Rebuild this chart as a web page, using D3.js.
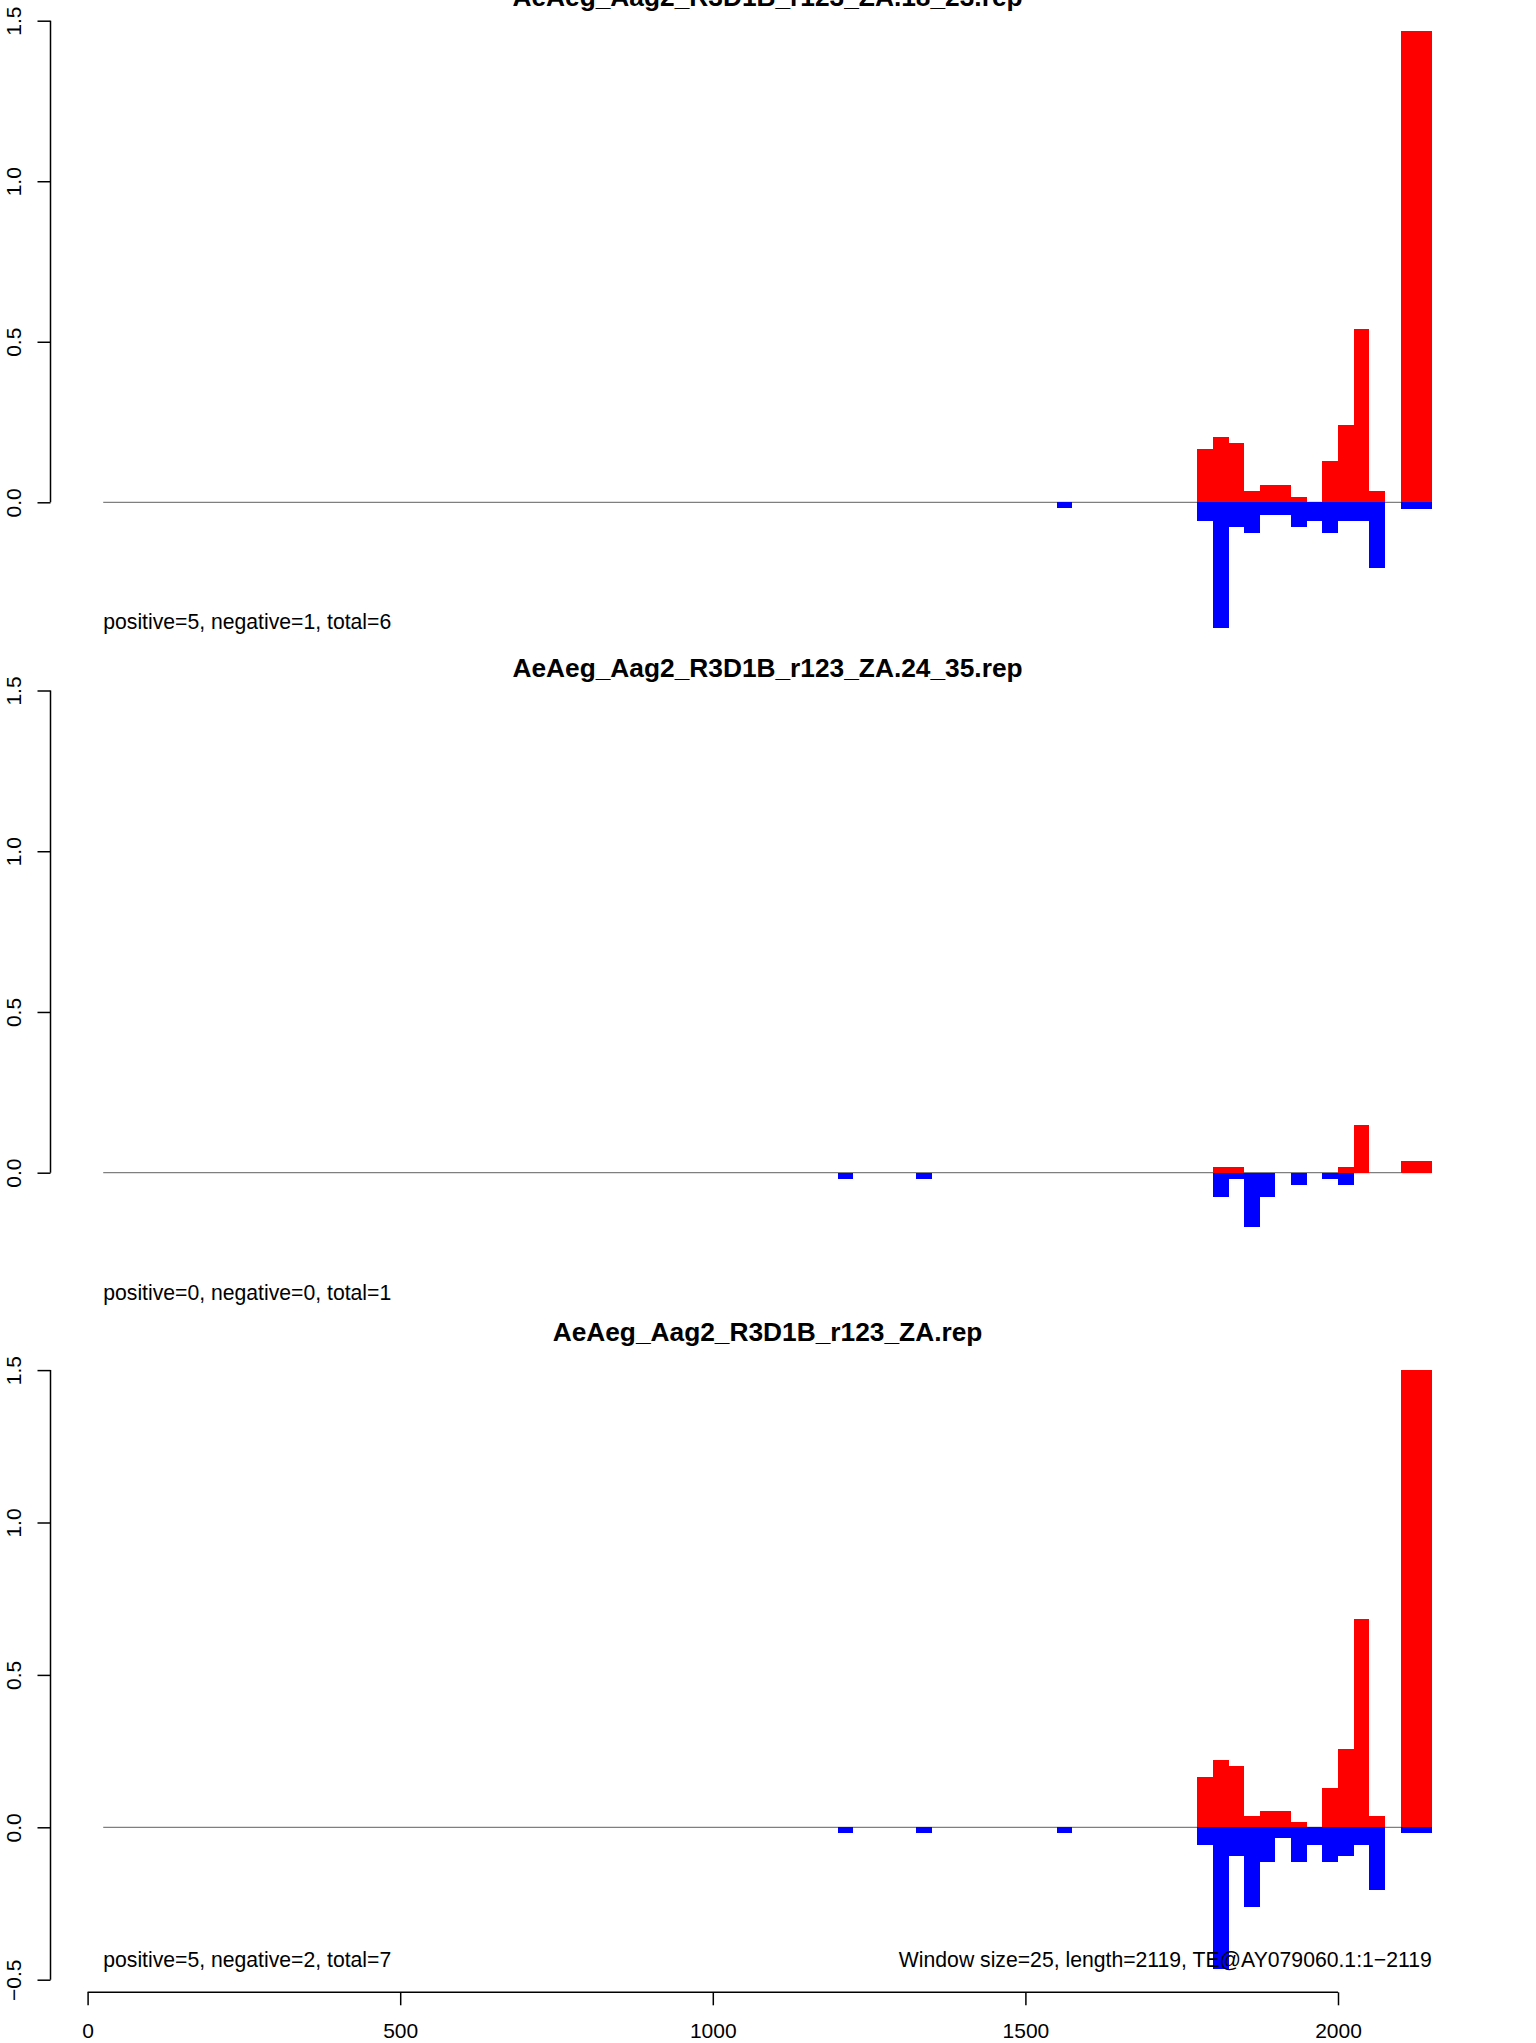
<!DOCTYPE html>
<html>
<head>
<meta charset="utf-8">
<script src="https://cdn.jsdelivr.net/npm/d3@7"></script>
<style>
  html, body { margin: 0; padding: 0; background: #fff; }
  svg { display: block; }
  text { font-family: "Liberation Sans", Arial, Helvetica, sans-serif; fill: #000; }
</style>
</head>
<body>
<svg id="chart" width="1536" height="2043"></svg>
<script>
// ---------- data ----------
const binStarts = [1200, 1325, 1550, 1775, 1800, 1825, 1850, 1875, 1900, 1925, 1950, 1975, 2000, 2025, 2050, 2100];
const binEnds   = [1225, 1350, 1575, 1800, 1825, 1850, 1875, 1900, 1925, 1950, 1975, 2000, 2025, 2050, 2075, 2150];

const titles = [
  "AeAeg_Aag2_R3D1B_r123_ZA.18_23.rep",
  "AeAeg_Aag2_R3D1B_r123_ZA.24_35.rep",
  "AeAeg_Aag2_R3D1B_r123_ZA.rep"
];
const posP1 = [0, 0, 0, 0.166, 0.204, 0.184, 0.036, 0.054, 0.054, 0.017, 0, 0.129, 0.241, 0.539, 0.036, 1.468];
const negP1 = [0, 0, -0.019, -0.058, -0.392, -0.077, -0.096, -0.038, -0.038, -0.077, -0.058, -0.096, -0.058, -0.058, -0.204, -0.021];
const posP2 = [0, 0, 0, 0, 0.018, 0.018, 0, 0, 0, 0, 0, 0, 0.018, 0.149, 0, 0.036];
const negP2 = [-0.019, -0.019, 0, 0, -0.075, -0.019, -0.168, -0.075, 0, -0.037, 0, -0.019, -0.037, 0, 0, 0];
const posP3 = [0, 0, 0, 0.165, 0.220, 0.201, 0.038, 0.054, 0.054, 0.017, 0, 0.129, 0.257, 0.683, 0.038, 1.5];
const negP3 = [-0.019, -0.019, -0.019, -0.058, -0.464, -0.095, -0.261, -0.113, -0.036, -0.113, -0.058, -0.113, -0.095, -0.058, -0.206, -0.019];
const countLabels = [
  "positive=5, negative=1, total=6",
  "positive=0, negative=0, total=1",
  "positive=5, negative=2, total=7"
];
const infoLabel = "Window size=25, length=2119, TE@AY079060.1:1\u22122119";
const yTicksShort = [0, 0.5, 1.0, 1.5];
const yTicksLong = [-0.5, 0, 0.5, 1.0, 1.5];
const xTicks = [0, 500, 1000, 1500, 2000];
const baselineRange = [25, 2150];

// ---------- layout ----------
const panels = [
  { pos: posP1, neg: negP1, yDomain: [0, 1.5], yRange: [502.3, 20.7], ticks: yTicksShort, titleY: 6.3, countY: 629.3 },
  { pos: posP2, neg: negP2, yDomain: [0, 1.5], yRange: [1172.7, 690.5], ticks: yTicksShort, titleY: 676.7, countY: 1299.7 },
  { pos: posP3, neg: negP3, yDomain: [-0.5, 1.5], yRange: [1979.7, 1370.1], ticks: yTicksLong, titleY: 1340.7, countY: 1966.7 }
];
const axisX = 50.5;
const tickLen = 13;

const svg = d3.select("#chart");
const x = d3.scaleLinear().domain([0, 2000]).range([87.6, 1338.0]);

const fmt = d => d.toFixed(1).replace("-", "\u2212");

panels.forEach((p, i) => {
  const y = d3.scaleLinear().domain(p.yDomain).range(p.yRange);
  const g = svg.append("g");

  // zero baseline
  g.append("line")
    .attr("x1", x(baselineRange[0])).attr("x2", x(baselineRange[1]))
    .attr("y1", y(0)).attr("y2", y(0))
    .attr("stroke", "#7f7f7f").attr("stroke-width", 1.2);

  const rows = binStarts.map((s, k) => ({ s, e: binEnds[k], pv: p.pos[k], nv: p.neg[k] }));

  g.selectAll("rect.pos").data(rows.filter(r => r.pv > 0)).join("rect")
    .attr("class", "pos")
    .attr("x", r => x(r.s)).attr("width", r => x(r.e) - x(r.s))
    .attr("y", r => y(r.pv)).attr("height", r => y(0) - y(r.pv))
    .attr("fill", "#ff0000").attr("shape-rendering", "crispEdges");

  g.selectAll("rect.neg").data(rows.filter(r => r.nv < 0)).join("rect")
    .attr("class", "neg")
    .attr("x", r => x(r.s)).attr("width", r => x(r.e) - x(r.s))
    .attr("y", y(0)).attr("height", r => y(r.nv) - y(0))
    .attr("fill", "#0000ff").attr("shape-rendering", "crispEdges");

  // y axis
  const yAxis = d3.axisLeft(y).tickValues(p.ticks).tickSize(tickLen).tickSizeOuter(0).tickFormat(fmt);
  const ya = g.append("g").attr("transform", `translate(${axisX},0)`).call(yAxis);
  ya.select(".domain").attr("stroke", "#000").attr("stroke-width", 1.5)
    .attr("d", `M0,${y(p.ticks[0])}V${y(p.ticks[p.ticks.length - 1])}`);
  ya.selectAll(".tick line").attr("stroke", "#000").attr("stroke-width", 1.5);
  ya.selectAll(".tick text")
    .attr("x", null).attr("dy", null)
    .attr("transform", "translate(-29.5,0) rotate(-90)")
    .attr("text-anchor", "middle")
    .attr("font-size", "21px")
    .attr("font-family", '"Liberation Sans", Arial, sans-serif')
    .attr("fill", "#000");

  // title
  g.append("text")
    .attr("x", 767.5).attr("y", p.titleY)
    .attr("text-anchor", "middle")
    .attr("font-weight", "bold")
    .attr("font-size", "26.3px")
    .text(titles[i]);

  // count label
  g.append("text")
    .attr("x", x(baselineRange[0])).attr("y", p.countY)
    .attr("font-size", "21.2px")
    .text(countLabels[i]);

  if (i === 2) {
    g.append("text")
      .attr("x", x(baselineRange[1])).attr("y", p.countY)
      .attr("text-anchor", "end")
      .attr("font-size", "21.2px")
      .text(infoLabel);
  }
});

// bottom x axis
const xAxis = d3.axisBottom(x).tickValues(xTicks).tickSize(tickLen).tickSizeOuter(0).tickFormat(d3.format("d"));
const xa = svg.append("g").attr("transform", "translate(0,1992.3)").call(xAxis);
xa.select(".domain").attr("stroke", "#000").attr("stroke-width", 1.5)
  .attr("d", `M${x(0)},0H${x(2000)}`);
xa.selectAll(".tick line").attr("stroke", "#000").attr("stroke-width", 1.5);
xa.selectAll(".tick text")
  .attr("y", 45.5).attr("dy", null)
  .attr("font-size", "21px")
  .attr("font-family", '"Liberation Sans", Arial, sans-serif')
  .attr("fill", "#000");
</script>
</body>
</html>
